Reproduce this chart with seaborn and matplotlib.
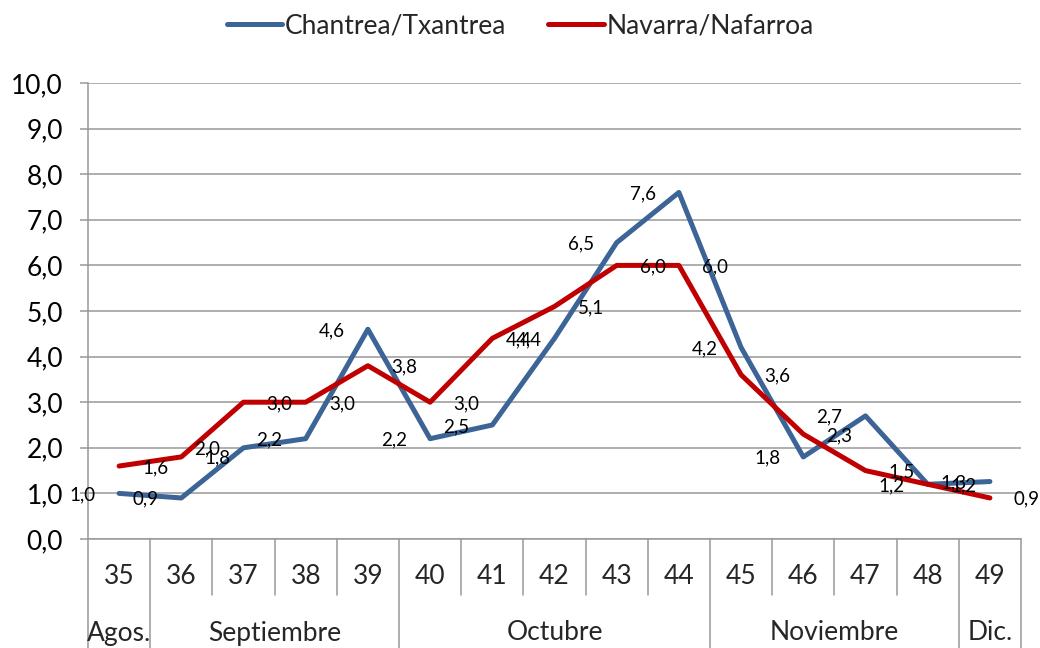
import pandas as pd
import numpy as np
import matplotlib
matplotlib.use('Agg')
import matplotlib.pyplot as plt
import seaborn as sns

# Data (weekly rates)
weeks = ['35', '36', '37', '38', '39', '40', '41', '42', '43', '44', '45', '46', '47', '48', '49']
chantrea = [1.0, 0.9, 2.0, 2.2, 4.6, 2.2, 2.5, 4.4, 6.5, 7.6, 4.2, 1.8, 2.7, 1.2, 1.26]
navarra = [1.6, 1.8, 3.0, 3.0, 3.8, 3.0, 4.4, 5.1, 6.0, 6.0, 3.6, 2.3, 1.5, 1.2, 0.9]
series_names = ['Chantrea/Txantrea', 'Navarra/Nafarroa']
month_names = ['Agos.', 'Septiembre', 'Octubre', 'Noviembre', 'Dic.']
month_spans = [1, 4, 5, 4, 1]
y_ticks = [0, 1, 2, 3, 4, 5, 6, 7, 8, 9, 10]

colors = {'Chantrea/Txantrea': '#3C6496', 'Navarra/Nafarroa': '#C00000'}
grid_color = '#989898'

sns.set_theme(style='white')
plt.rcParams['font.family'] = ['Lato', 'DejaVu Sans']

df = pd.DataFrame({
    'pos': list(range(len(weeks))) * 2,
    'valor': chantrea + navarra,
    'serie': [series_names[0]] * len(weeks) + [series_names[1]] * len(weeks),
})

fig = plt.figure(figsize=(10.4, 6.48), dpi=100)
ax = fig.add_axes([88 / 1040, 109 / 648, 933 / 1040, 456 / 648])

sns.lineplot(data=df, x='pos', y='valor', hue='serie', palette=colors,
             linewidth=3.6, ax=ax, legend=False, zorder=3)
for line in ax.lines:
    line.set_solid_capstyle('round')

# data labels: blue to the left, red to the right (as in the original)
for i, v in enumerate(chantrea):
    ax.annotate(f'{v:.1f}'.replace('.', ','), (i, v), xytext=(-26, -1),
                textcoords='offset points', ha='center', va='center',
                fontsize=13.5, color='black', zorder=4)
for i, v in enumerate(navarra):
    ax.annotate(f'{v:.1f}'.replace('.', ','), (i, v), xytext=(26, -1),
                textcoords='offset points', ha='center', va='center',
                fontsize=13.5, color='black', zorder=4, annotation_clip=False)

ax.set_xlim(-0.5, len(weeks) - 0.5)
ax.set_ylim(0, 10)
ax.set_yticks(y_ticks)
ax.set_yticklabels([f'{t},0' for t in y_ticks], fontsize=19)
ax.set_xticks([])
ax.set_xlabel('')
ax.set_ylabel('')

ax.yaxis.grid(True, color=grid_color, linewidth=1.1)
ax.set_axisbelow(True)
for s in ['top', 'right']:
    ax.spines[s].set_visible(False)
for s in ['left', 'bottom']:
    ax.spines[s].set_color(grid_color)
    ax.spines[s].set_linewidth(1.1)
ax.tick_params(axis='y', which='major', left=True, length=6, width=1.1,
               color=grid_color, pad=12, labelcolor='black')

# category axis: week labels + month groups
trans = ax.get_xaxis_transform()
short_bottom = -56 / 456
full_bottom = -109 / 456
for i, w in enumerate(weeks):
    ax.text(i, -38 / 456, w, transform=trans, ha='center', va='center',
            fontsize=19, clip_on=False)

bounds = np.concatenate([[0], np.cumsum(month_spans)])
month_edges = set(bounds.tolist())
for k in range(len(weeks) + 1):
    bottom = full_bottom if k in month_edges else short_bottom
    ax.plot([k - 0.5, k - 0.5], [0, bottom], transform=trans, color=grid_color,
            linewidth=1.1, clip_on=False)

for name, a, b in zip(month_names, bounds[:-1], bounds[1:]):
    ax.text((a + b) / 2 - 0.5, -94 / 456, name, transform=trans, ha='center',
            va='center', fontsize=19, clip_on=False)

# legend at top
handles = [plt.Line2D([], [], color=colors[n], linewidth=3.6, solid_capstyle='round')
           for n in series_names]
fig.legend(handles, series_names, loc='center', bbox_to_anchor=(0.5, 1 - 26 / 648),
           ncol=2, frameon=False, fontsize=19, handlelength=2.1, handletextpad=0.1,
           columnspacing=1.6)

fig.savefig('out.png', dpi=100)
